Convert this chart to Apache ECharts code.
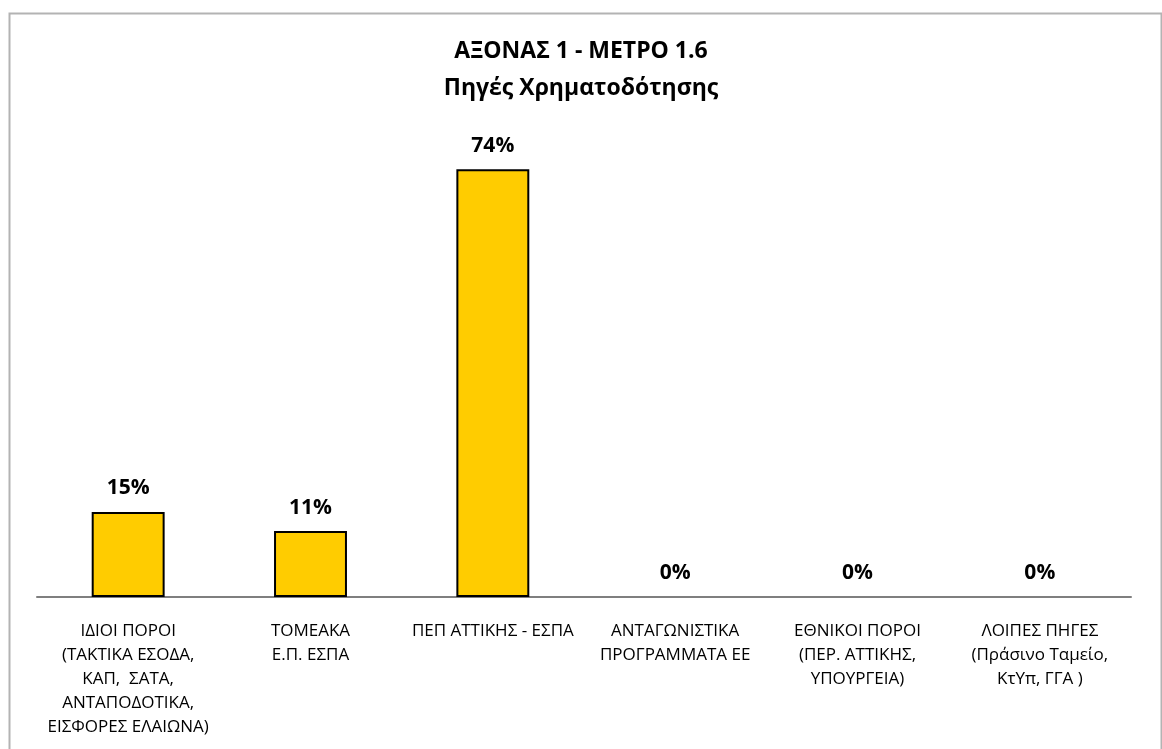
<!DOCTYPE html>
<html><head><meta charset="utf-8">
<script src="https://cdn.jsdelivr.net/npm/echarts@6/dist/echarts.min.js"></script>
<style>html,body{margin:0;padding:0;background:#fff}#c{width:1162px;height:749px}</style>
</head><body><div id="c"></div>
<script>
const categories = [
  "ΙΔΙΟΙ ΠΟΡΟΙ\n(ΤΑΚΤΙΚΑ ΕΣΟΔΑ,\nΚΑΠ,  ΣΑΤΑ,\nΑΝΤΑΠΟΔΟΤΙΚΑ,\nΕΙΣΦΟΡΕΣ ΕΛΑΙΩΝΑ)",
  "ΤΟΜΕΑΚΑ\nΕ.Π. ΕΣΠΑ",
  "ΠΕΠ ΑΤΤΙΚΗΣ - ΕΣΠΑ",
  "ΑΝΤΑΓΩΝΙΣΤΙΚΑ\nΠΡΟΓΡΑΜΜΑΤΑ ΕΕ",
  "ΕΘΝΙΚΟΙ ΠΟΡΟΙ\n(ΠΕΡ. ΑΤΤΙΚΗΣ,\nΥΠΟΥΡΓΕΙΑ)",
  "ΛΟΙΠΕΣ ΠΗΓΕΣ\n(Πράσινο Ταμείο,\nΚτΥπ, ΓΓΑ )"
];
const values = [14.7, 11.4, 73.9, 0, 0, 0];
const titleLines = ["ΑΞΟΝΑΣ 1 - ΜΕΤΡΟ 1.6", "Πηγές Χρηματοδότησης"];

const font = "'Open Sans', 'Noto Sans', sans-serif";
const chart = echarts.init(document.getElementById('c'), null, {renderer: 'canvas'});
chart.setOption({
  animation: false,
  backgroundColor: '#fff',
  title: {
    text: titleLines.join('\n'),
    left: 'center',
    top: 28,
    textStyle: {fontFamily: font, fontSize: 23, fontWeight: 'bold', color: '#000', lineHeight: 37}
  },
  graphic: [{
    type: 'rect', left: 7, top: 11,
    shape: {width: 1152, height: 760},
    style: {fill: 'none', stroke: '#b3b3b3', lineWidth: 2},
    silent: true
  }],
  grid: {left: 37, right: 31, top: 134, bottom: 152, containLabel: false},
  xAxis: {
    type: 'category',
    data: categories,
    axisLine: {lineStyle: {color: '#7f7f7f', width: 2}},
    axisTick: {show: false},
    axisLabel: {
      interval: 0, margin: 22, fontFamily: font, fontSize: 17, color: '#000', lineHeight: 24
    }
  },
  yAxis: {
    type: 'value', min: 0, max: 80, show: false, splitLine: {show: false}
  },
  series: [{
    type: 'bar',
    data: values.map(v => ({value: v, itemStyle: v === 0 ? {borderWidth: 0} : {}})),
    barWidth: '40%',
    itemStyle: {color: '#FFCC00', borderColor: '#000', borderWidth: 2},
    label: {
      show: true, position: 'top', distance: 13,
      fontFamily: font, fontSize: 21, fontWeight: 'bold', color: '#000',
      formatter: p => Math.round(p.value) + '%'
    }
  }]
});
</script></body></html>
